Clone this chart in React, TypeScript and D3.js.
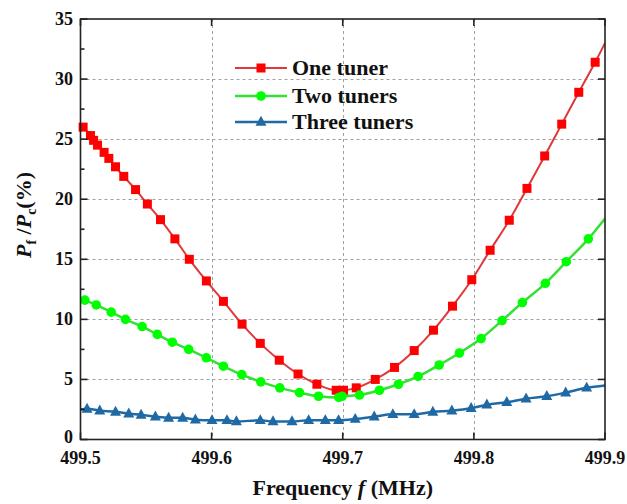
import React from "react";
import * as d3 from "d3";

const W = 627;
const H = 504;

// ---- data ----
const oneTunerF = [499.502, 499.5076, 499.510, 499.513, 499.518, 499.5216, 499.5267, 499.533, 499.542, 499.551, 499.561, 499.572, 499.583, 499.596, 499.609, 499.6232, 499.6371, 499.6516, 499.6659, 499.6803, 499.695, 499.7006, 499.7103, 499.7248, 499.7395, 499.7545, 499.7692, 499.7837, 499.7984, 499.8124, 499.827, 499.8405, 499.854, 499.867, 499.880, 499.8925];
const oneTunerV = [26.0, 25.3, 24.9, 24.5, 23.9, 23.4, 22.7, 21.9, 20.8, 19.6, 18.3, 16.7, 15.0, 13.2, 11.5, 9.6, 8.0, 6.6, 5.45, 4.6, 4.1, 4.1, 4.3, 5.0, 6.0, 7.4, 9.1, 11.1, 13.3, 15.75, 18.25, 20.9, 23.6, 26.25, 28.9, 31.4];
const oneTunerEnd = 33.0;

const twoTunersF = [499.5033, 499.512, 499.5234, 499.5343, 499.547, 499.5585, 499.570, 499.5825, 499.596, 499.609, 499.623, 499.6375, 499.652, 499.667, 499.6815, 499.697, 499.6995, 499.7128, 499.728, 499.7425, 499.7575, 499.7735, 499.789, 499.8055, 499.8215, 499.837, 499.8545, 499.8705, 499.8873];
const twoTunersV = [11.6, 11.2, 10.6, 10.0, 9.4, 8.75, 8.1, 7.5, 6.8, 6.1, 5.4, 4.8, 4.3, 3.9, 3.6, 3.5, 3.6, 3.7, 4.1, 4.6, 5.25, 6.2, 7.2, 8.4, 9.9, 11.4, 13.0, 14.8, 16.7];
const twoTunersEnd = 18.4;

const threeTunersStart = 2.5;
const threeTunersF = [499.505, 499.5147, 499.5267, 499.5368, 499.5462, 499.5571, 499.5672, 499.5779, 499.5876, 499.6003, 499.6117, 499.6189, 499.6371, 499.6468, 499.6613, 499.674, 499.6867, 499.6968, 499.7095, 499.724, 499.7382, 499.7545, 499.7687, 499.7832, 499.7979, 499.8099, 499.8251, 499.8398, 499.8556, 499.870, 499.886];
const threeTunersV = [2.55, 2.4, 2.3, 2.15, 2.05, 1.9, 1.8, 1.8, 1.65, 1.6, 1.6, 1.5, 1.6, 1.5, 1.5, 1.6, 1.6, 1.6, 1.7, 1.9, 2.1, 2.1, 2.3, 2.4, 2.6, 2.9, 3.1, 3.4, 3.6, 3.9, 4.3];
const threeTunersEnd = 4.5;

const seriesNames = ["One tuner", "Two tuners", "Three tuners"];
const xTicks = [499.5, 499.6, 499.7, 499.8, 499.9];
const xTickLabels = ["499.5", "499.6", "499.7", "499.8", "499.9"];
const yTicks = [0, 5, 10, 15, 20, 25, 30, 35];
const yMinorTicks = [2.5, 7.5, 12.5, 17.5, 22.5, 27.5, 32.5];
const xDomain = [499.5, 499.9];
const yDomain = [0, 35];

const FONT = "'Liberation Serif', 'Times New Roman', serif";

const M = { left: 80.5, right: 605, top: 19, bottom: 439.5 };

export default function App() {
  const x = d3.scaleLinear().domain(xDomain).range([M.left, M.right]);
  const y = d3.scaleLinear().domain(yDomain).range([M.bottom, M.top]);

  type P = [number, number];
  const red: P[] = oneTunerF.map((f, i) => [f, oneTunerV[i]]);
  const green: P[] = twoTunersF.map((f, i) => [f, twoTunersV[i]]);
  const blue: P[] = threeTunersF.map((f, i) => [f, threeTunersV[i]]);

  const redLine: P[] = [...red, [xDomain[1], oneTunerEnd]];
  const greenLine: P[] = [...green, [xDomain[1], twoTunersEnd]];
  const blueLine: P[] = [[xDomain[0], threeTunersStart], ...blue, [xDomain[1], threeTunersEnd]];

  const line = d3
    .line<P>()
    .x((d) => x(d[0]))
    .y((d) => y(d[1]))
    .curve(d3.curveMonotoneX);

  const redStroke = "#e0393b";
  const redFill = "#ff0000";
  const greenStroke = "#33e033";
  const greenFill = "#00ff00";
  const blueC = "#1f6aa5";

  const sq = 9;
  const tri = (cx: number, cy: number, s: number) => {
    const h = s * 0.9;
    return `M${cx},${cy - h * 0.62}L${cx + s / 2},${cy + h * 0.38}L${cx - s / 2},${cy + h * 0.38}Z`;
  };

  const gridY = yTicks.filter((v) => v > 0 && v < 35);
  const gridX = xTicks.filter((v) => v > 499.5 && v < 499.9);

  const legendY = [68, 96, 122];
  const lx0 = 235;
  const lx1 = 287;
  const lxm = 261;

  return (
    <svg
      width={W}
      height={H}
      style={{ position: "absolute", left: 0, top: 0, background: "#fff" }}
      fontFamily={FONT}
    >
      <defs>
        <clipPath id="plot">
          <rect x={M.left} y={M.top} width={M.right - M.left} height={M.bottom - M.top} />
        </clipPath>
      </defs>
      <rect width={W} height={H} fill="#fff" />

      {/* grid */}
      <g stroke="#a0a0a0" strokeWidth={1} strokeDasharray="3,3">
        {gridY.map((v) => (
          <line key={"gy" + v} x1={M.left} x2={M.right} y1={Math.round(y(v)) + 0.5} y2={Math.round(y(v)) + 0.5} />
        ))}
        {gridX.map((v) => (
          <line key={"gx" + v} y1={M.top} y2={M.bottom} x1={Math.round(x(v)) + 0.5} x2={Math.round(x(v)) + 0.5} />
        ))}
      </g>

      {/* series */}
      <g clipPath="url(#plot)">
        <path d={line(redLine) || ""} fill="none" stroke={redStroke} strokeWidth={2} />
        <path d={line(greenLine) || ""} fill="none" stroke={greenStroke} strokeWidth={2.5} />
        <path d={line(blueLine) || ""} fill="none" stroke={blueC} strokeWidth={2.5} />
      </g>
      <g>
        {red.map((d, i) => (
          <rect key={"r" + i} x={x(d[0]) - sq / 2} y={y(d[1]) - sq / 2} width={sq} height={sq} fill={redFill} />
        ))}
        {green.map((d, i) => (
          <circle key={"g" + i} cx={x(d[0])} cy={y(d[1])} r={4.8} fill={greenFill} />
        ))}
        {blue.map((d, i) => (
          <path key={"b" + i} d={tri(x(d[0]), y(d[1]), 11)} fill={blueC} />
        ))}
      </g>

      {/* axes box */}
      <rect
        x={M.left}
        y={M.top}
        width={M.right - M.left}
        height={M.bottom - M.top}
        fill="none"
        stroke="#222"
        strokeWidth={1.6}
      />

      {/* ticks */}
      <g stroke="#222" strokeWidth={1.6}>
        {yTicks.map((v) => (
          <line key={"yl" + v} x1={M.left} x2={M.left + 7} y1={y(v)} y2={y(v)} />
        ))}
        {yMinorTicks.map((v) => (
          <line key={"ym" + v} x1={M.left} x2={M.left + 4} y1={y(v)} y2={y(v)} />
        ))}
        {yTicks.map((v) => (
          <line key={"yr" + v} x1={M.right} x2={M.right - 7} y1={y(v)} y2={y(v)} />
        ))}
        {xTicks.map((v) => (
          <line key={"xb" + v} x1={x(v)} x2={x(v)} y1={M.bottom} y2={M.bottom - 7} />
        ))}
        {xTicks.map((v) => (
          <line key={"xt" + v} x1={x(v)} x2={x(v)} y1={M.top} y2={M.top + 7} />
        ))}
      </g>

      {/* tick labels */}
      <g fontSize={18} fontWeight="bold" fill="#111">
        {yTicks.map((v) => (
          <text key={"tyl" + v} x={73} y={y(v)} dy={v === 0 ? "0.22em" : "0.33em"} textAnchor="end">
            {String(v)}
          </text>
        ))}
        {xTicks.map((v, i) => (
          <text key={"txl" + v} x={x(v)} y={464} textAnchor="middle">
            {xTickLabels[i]}
          </text>
        ))}
      </g>

      {/* axis titles */}
      <text x={(M.left + M.right) / 2} y={495} textAnchor="middle" fontSize={22} fontWeight="bold" fill="#111">
        Frequency <tspan fontStyle="italic">f</tspan> (MHz)
      </text>
      <text
        transform={`translate(31,215) rotate(-90)`}
        textAnchor="middle"
        fontSize={22}
        fontWeight="bold"
        fill="#111"
      >
        <tspan fontStyle="italic">P</tspan>
        <tspan fontSize={14} dy={5}>f</tspan>
        <tspan dy={-5}> /</tspan>
        <tspan fontStyle="italic">P</tspan>
        <tspan fontSize={14} dy={5}>c</tspan>
        <tspan dy={-5}>(%)</tspan>
      </text>

      {/* legend */}
      <g>
        <line x1={lx0} x2={lx1} y1={legendY[0]} y2={legendY[0]} stroke={redStroke} strokeWidth={2} />
        <rect x={lxm - sq / 2} y={legendY[0] - sq / 2} width={sq} height={sq} fill={redFill} />
        <line x1={lx0} x2={lx1} y1={legendY[1]} y2={legendY[1]} stroke={greenStroke} strokeWidth={2.5} />
        <circle cx={lxm} cy={legendY[1]} r={4.8} fill={greenFill} />
        <line x1={lx0} x2={lx1} y1={legendY[2]} y2={legendY[2]} stroke={blueC} strokeWidth={2.5} />
        <path d={tri(lxm, legendY[2], 11)} fill={blueC} />
        {seriesNames.map((s, i) => (
          <text key={s} x={292} y={legendY[i] + 7} fontSize={22} fontWeight="bold" fill="#111">
            {s}
          </text>
        ))}
      </g>
    </svg>
  );
}
